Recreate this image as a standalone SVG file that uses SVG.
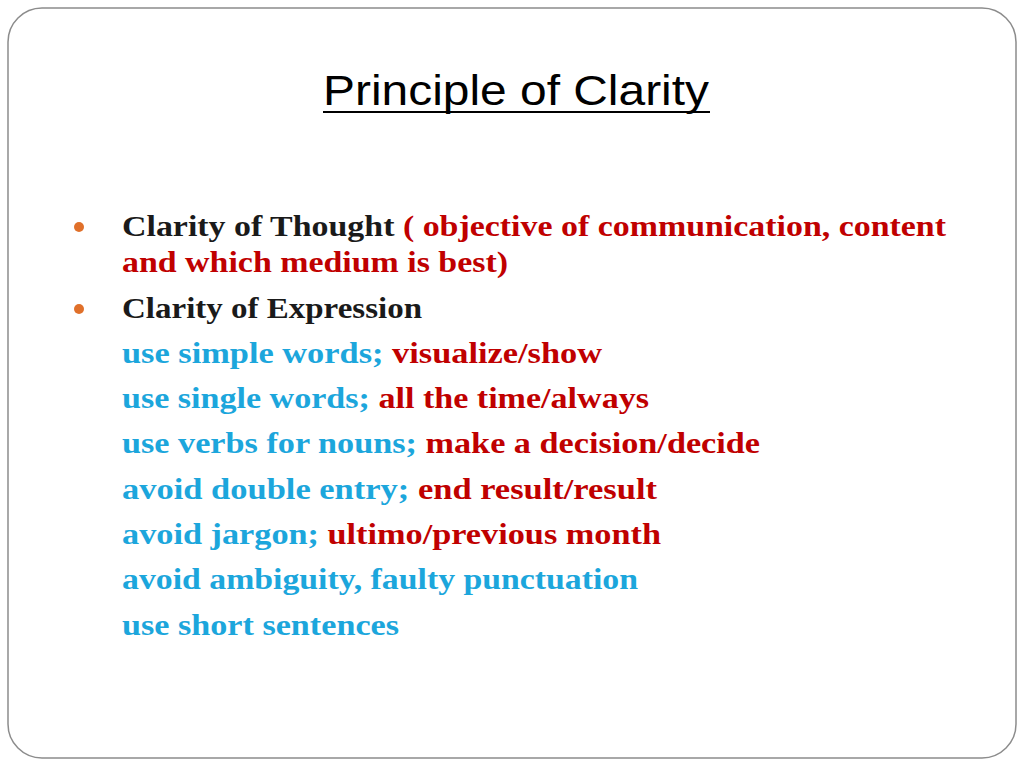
<svg xmlns="http://www.w3.org/2000/svg" width="1024" height="768" viewBox="0 0 1024 768">
<style>
.t{font-family:"Liberation Serif",serif;font-weight:bold;font-size:29px}
.k{fill:#1a1a1a}.r{fill:#c00000}.b{fill:#1ca6dc}
</style>
<rect x="0" y="0" width="1024" height="768" fill="#fff"/>
<rect x="8" y="8" width="1008" height="750" rx="34" fill="#fff" stroke="#8c8c8c" stroke-width="1.5"/>
<text x="323" y="105" font-family="'Liberation Sans',sans-serif" font-size="43" fill="#000" textLength="386" lengthAdjust="spacingAndGlyphs">Principle of Clarity</text>
<line x1="323" y1="112" x2="710" y2="112" stroke="#000" stroke-width="2"/>
<circle cx="79" cy="227" r="5" fill="#e0702a"/>
<circle cx="79" cy="309" r="5" fill="#e0702a"/>
<text class="t" x="122" y="236" textLength="824" lengthAdjust="spacingAndGlyphs"><tspan class="k">Clarity of Thought </tspan><tspan class="r">( objective of communication, content</tspan></text>
<text class="t r" x="122" y="272" textLength="386" lengthAdjust="spacingAndGlyphs">and which medium is best)</text>
<text class="t k" x="122" y="318" textLength="300" lengthAdjust="spacingAndGlyphs">Clarity of Expression</text>
<text class="t" x="122" y="363" textLength="480" lengthAdjust="spacingAndGlyphs"><tspan class="b">use simple words; </tspan><tspan class="r">visualize/show</tspan></text>
<text class="t" x="122" y="408" textLength="527" lengthAdjust="spacingAndGlyphs"><tspan class="b">use single words; </tspan><tspan class="r">all the time/always</tspan></text>
<text class="t" x="122" y="453" textLength="638" lengthAdjust="spacingAndGlyphs"><tspan class="b">use verbs for nouns; </tspan><tspan class="r">make a decision/decide</tspan></text>
<text class="t" x="122" y="499" textLength="535" lengthAdjust="spacingAndGlyphs"><tspan class="b">avoid double entry; </tspan><tspan class="r">end result/result</tspan></text>
<text class="t" x="122" y="544" textLength="539" lengthAdjust="spacingAndGlyphs"><tspan class="b">avoid jargon; </tspan><tspan class="r">ultimo/previous month</tspan></text>
<text class="t b" x="122" y="589" textLength="516" lengthAdjust="spacingAndGlyphs">avoid ambiguity, faulty punctuation</text>
<text class="t b" x="122" y="635" textLength="277" lengthAdjust="spacingAndGlyphs">use short sentences</text>
</svg>
